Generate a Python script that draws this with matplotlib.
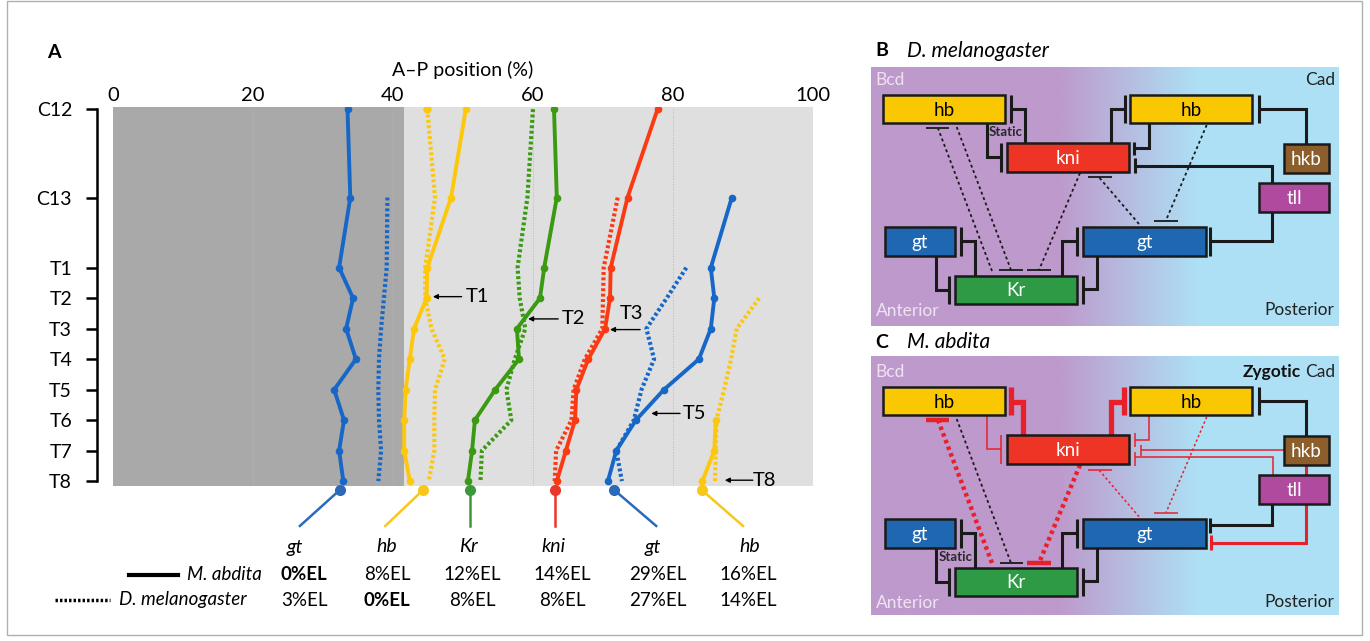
import numpy as np
import matplotlib
matplotlib.use('Agg')
import matplotlib.pyplot as plt
from matplotlib.patches import Rectangle

plt.rcParams['font.family'] = ['Lato', 'DejaVu Sans']

# ---- panel A data -------------------------------------------------------
rows = ['C12', 'C13', 'T1', 'T2', 'T3', 'T4', 'T5', 'T6', 'T7', 'T8']
row_pos = [0, 2.9, 5.2, 6.2, 7.2, 8.2, 9.2, 10.2, 11.2, 12.2]

# M. abdita (solid), A-P position in %; first row index given separately
ma_gt_ant = [33.5, 33.9, 32.3, 34.3, 33.3, 34.7, 31.6, 33.0, 32.3, 32.9]
ma_hb_ant = [50.4, 48.3, 44.9, 44.8, 43.0, 42.4, 41.8, 41.6, 41.6, 42.4]
ma_kr = [63.0, 63.4, 61.6, 61.0, 57.7, 58.0, 54.6, 51.7, 51.3, 50.7]
ma_kni = [77.8, 73.5, 71.1, 71.0, 70.3, 67.9, 66.2, 66.0, 64.7, 63.4]
ma_gt_post = [88.4, 85.4, 85.9, 85.4, 83.7, 78.7, 74.7, 71.9, 70.7]      # from C13
ma_hb_post = [86.1, 85.9, 84.2]                                          # from T6

# D. melanogaster (dotted)
dm_gt_ant = [39.2, 39.1, 38.7, 38.3, 38.0, 37.9, 38.0, 38.3, 37.9]      # from C13
dm_hb_ant = [44.9, 46.0, 44.6, 44.6, 45.5, 47.4, 46.0, 45.9, 45.9, 45.1]
dm_kr = [60.0, 59.2, 57.8, 58.1, 58.9, 57.4, 56.2, 56.9, 52.7, 52.5]
dm_kni = [72.1, 70.1, 70.0, 69.9, 67.4, 65.8, 65.5, 63.3, 63.1]        # from C13
dm_gt_post = [81.9, 79.1, 76.2, 77.3, 75.5, 74.4, 71.9, 72.7]           # from T1
dm_hb_post = [92.3, 89.1, 88.3, 87.3, 86.2, 86.1, 86.0]                 # from T2

anterior_shift = 41.6   # dark grey region ends here

genes = ['gt', 'hb', 'Kr', 'kni', 'gt', 'hb']
pin_x = [32.4, 44.3, 51.0, 63.2, 71.6, 84.1]
pin_end = [26.7, 38.9, 51.0, 63.2, 77.6, 90.0]
el_abdita = ['0%EL', '8%EL', '12%EL', '14%EL', '29%EL', '16%EL']
el_mel = ['3%EL', '0%EL', '8%EL', '8%EL', '27%EL', '14%EL']

BLUE = '#1767c8'
YEL = '#fdc70c'
GRN = '#3a9a12'
RED = '#fb3a14'
pin_cols = ['#2a6ab8', '#f7c71a', '#3a9a3a', '#e8372a', '#2a6ab8', '#f7c71a']

fig = plt.figure(figsize=(13.7, 6.41), dpi=100)

# overlay in pixel coordinates
ov = fig.add_axes([0, 0, 1, 1], zorder=0)
ov.set_xlim(0, 1370)
ov.set_ylim(641, 0)
ov.axis('off')

ax = fig.add_axes([113 / 1370, 1 - 486 / 641, 700 / 1370, 379 / 641], zorder=1)
ax.set_facecolor('none')
ax.set_xlim(0, 100)
ax.set_ylim(12.36, -0.07)
ax.axvspan(0, anterior_shift, color='#a9a9a9', lw=0, zorder=0)
ax.axvspan(anterior_shift, 100, color='#dfdfdf', lw=0, zorder=0)
for g in [20, 40, 60, 80, 100]:
    ax.axvline(g, color='#b8b8b8', lw=0.7, ls=':', zorder=0.5)

solid = [(ma_gt_ant, 0, BLUE), (ma_hb_ant, 0, YEL), (ma_kr, 0, GRN),
         (ma_kni, 0, RED), (ma_gt_post, 1, BLUE), (ma_hb_post, 7, YEL)]
dotted = [(dm_gt_ant, 1, BLUE), (dm_hb_ant, 0, YEL), (dm_kr, 0, GRN),
          (dm_kni, 1, RED), (dm_gt_post, 2, BLUE), (dm_hb_post, 3, YEL)]

for vals, start, col in dotted:
    ax.plot(vals, row_pos[start:start + len(vals)], color=col, lw=3,
            ls=(0, (0.7, 0.6)), dash_capstyle='butt', zorder=2)
ax.plot(dm_hb_ant[0], row_pos[0], 'o', color=YEL, ms=5, zorder=2)
for vals, start, col in solid:
    ax.plot(vals, row_pos[start:start + len(vals)], color=col, lw=2.8,
            marker='o', ms=4.5, zorder=3)

# bottom pins
for px, pe, col in zip(pin_x, pin_end, pin_cols):
    ax.plot([px, pe], [12.49, 13.67], color=col, lw=1.8, clip_on=False, zorder=3)
    ax.plot(px, 12.49, 'o', color=col, ms=7, clip_on=False, zorder=3)

# arrows
arrows = [('T1', (45.7, 6.15), (49.8, 6.15), (50.4, 6.15)),
          ('T2', (59.3, 6.88), (63.6, 6.88), (64.1, 6.88)),
          ('T3', (71.0, 7.23), (75.3, 7.23), (72.4, 6.7)),
          ('T5', (76.9, 9.98), (81.0, 9.98), (81.4, 9.98)),
          ('T8', (87.4, 12.17), (91.4, 12.17), (91.4, 12.17))]
for lab, head, tail, tpos in arrows:
    ax.annotate('', xy=head, xytext=tail,
                arrowprops=dict(arrowstyle='-|>', color='black', lw=1,
                                mutation_scale=7, shrinkA=0, shrinkB=0))
    ax.text(tpos[0], tpos[1], lab, fontsize=14.5, ha='left', va='center', zorder=4)

ax.set_yticks(row_pos)
ax.set_yticklabels(rows)
ax.set_xticks([0, 20, 40, 60, 80, 100])
ax.tick_params(axis='x', top=True, bottom=False, labeltop=True, labelbottom=False,
               length=0, pad=2, labelsize=14.5)
ax.tick_params(axis='y', direction='out', length=8, width=1.8, pad=10, labelsize=14)
for s in ['top', 'right', 'bottom']:
    ax.spines[s].set_visible(False)
ax.spines['left'].set_position(('outward', 11.5))
ax.spines['left'].set_bounds(row_pos[0], row_pos[-1])
ax.spines['left'].set_linewidth(1.8)
ax.xaxis.set_label_position('top')
ax.set_xlabel('A–P position (%)', fontsize=14, labelpad=8)

# ---- panel A labels below ----------------------------------------------
gene_x = [295, 387, 468, 554, 653, 750]
el_x = [304, 387, 472, 562, 658, 748]
for gx, ex, g, a, m in zip(gene_x, el_x, genes, el_abdita, el_mel):
    ov.text(gx, 547, g, style='italic', fontsize=14, ha='center', va='center')
    ov.text(ex, 575, a, fontsize=13.5, ha='center', va='center',
            fontweight='bold' if a == '0%EL' else 'normal')
    ov.text(ex, 600, m, fontsize=13.5, ha='center', va='center',
            fontweight='bold' if m == '0%EL' else 'normal')
ov.plot([129, 178], [575, 575], color='black', lw=3)
ov.text(262, 575, 'M. abdita', style='italic', fontsize=13.5, ha='right', va='center')
ov.plot([55, 110], [600, 600], color='black', lw=2.5, ls=(0, (0.7, 0.6)))
ov.text(247, 600, 'D. melanogaster', style='italic', fontsize=13.5, ha='right', va='center')
ov.text(47, 53, 'A', fontsize=14, fontweight='bold', ha='left', va='center')

# frame
ov.add_patch(Rectangle((7, 1), 1355, 634, fc='none', ec='#b0b0b0', lw=1))

# ---- panels B and C: gene network --------------------------------------
purple = np.array([0.745, 0.600, 0.800])
blue = np.array([0.680, 0.880, 0.960])


def background(y0, y1):
    f = np.linspace(0, 1, 400)
    t = np.clip((f - 0.40) / 0.30, 0, 1)
    grad = purple[None, :] * (1 - t[:, None]) + blue[None, :] * t[:, None]
    ov.imshow(grad[None, :, :], extent=[871, 1339, y1, y0], aspect='auto', zorder=1)


def box(x0, x1, y0, y1, fc, label, tc):
    ov.add_patch(Rectangle((x0, y0), x1 - x0, y1 - y0, fc=fc, ec='#1a1a1a', lw=1.8, zorder=4))
    ov.text((x0 + x1) / 2, (y0 + y1) / 2 + 1, label, color=tc, ha='center', va='center',
            fontsize=13.5, zorder=5)


def rep(pts, bar, dy, color='#1a1a1a', lw=2.2, ls='-', blw=None):
    xs = [p[0] for p in pts]
    ys = [p[1] + dy for p in pts]
    ov.plot(xs, ys, color=color, lw=lw, ls=ls, solid_capstyle='butt',
            solid_joinstyle='miter', dash_capstyle='butt', zorder=3)
    (bx0, by0), (bx1, by1) = bar
    ov.plot([bx0, bx1], [by0 + dy, by1 + dy], color=color, lw=blw or lw,
            solid_capstyle='butt', zorder=3)


def boxes(dy):
    box(883, 1005, 95 + dy, 123 + dy, '#f9c800', 'hb', 'black')
    box(1130, 1252, 95 + dy, 123 + dy, '#f9c800', 'hb', 'black')
    box(1007, 1129, 143 + dy, 172 + dy, '#ee3424', 'kni', 'white')
    box(1284, 1329, 144 + dy, 173 + dy, '#8b5e2b', 'hkb', 'white')
    box(1259, 1329, 183 + dy, 212 + dy, '#b04a9f', 'tll', 'white')
    box(885, 955, 227 + dy, 256 + dy, '#1f67b1', 'gt', 'white')
    box(1083, 1206, 227 + dy, 256 + dy, '#1f67b1', 'gt', 'white')
    box(955, 1077, 276 + dy, 304 + dy, '#2f9a46', 'Kr', 'white')


def common(dy):
    rep([(975, 276), (975, 241), (961, 241)], ((961, 227), (961, 256)), dy)
    rep([(936, 256), (936, 290), (949, 290)], ((949, 276), (949, 304)), dy)
    rep([(1062, 276), (1062, 241), (1077, 241)], ((1077, 227), (1077, 256)), dy)
    rep([(1097, 256), (1097, 289), (1083, 289)], ((1083, 276), (1083, 304)), dy)
    rep([(1306.5, 144), (1306.5, 109), (1259, 109)], ((1259, 95), (1259, 123)), dy)


DOT = (0, (1.6, 1.6))
RDOT = (0, (0.8, 0.8))
PINK = '#e8202a'
LIGHT = '#efe3f2'

# panel B
background(67, 326)
dy = 0
rep([(1025, 143), (1025, 109), (1011, 109)], ((1011, 95), (1011, 123)), dy)
rep([(986.7, 123), (986.7, 157), (1000.7, 157)], ((1000.7, 143), (1000.7, 172)), dy)
rep([(1110.7, 143), (1110.7, 109), (1125, 109)], ((1125, 95), (1125, 123)), dy)
rep([(1148.7, 123), (1148.7, 148), (1134, 148)], ((1134, 142), (1134, 155)), dy)
rep([(1272, 183), (1272, 166), (1135, 166)], ((1135, 158), (1135, 173)), dy)
rep([(1272, 212), (1272, 241), (1210, 241)], ((1210, 227), (1210, 256)), dy)
common(dy)
rep([(992, 271), (938, 128.3)], ((926, 128.3), (949, 128.3)), dy, lw=1.3, ls=DOT)
rep([(956.7, 127), (1011, 270)], ((999, 270), (1023, 270)), dy, lw=1.3, ls=DOT)
rep([(1080, 173), (1039, 270)], ((1027, 270), (1051, 270)), dy, lw=1.3, ls=DOT)
rep([(1139, 224), (1099, 177.3)], ((1088, 177.3), (1112, 177.3)), dy, lw=1.3, ls=DOT)
rep([(1206.7, 125), (1165.7, 221)], ((1154, 221), (1178, 221)), dy, lw=1.3, ls=DOT)
boxes(dy)
ov.text(1005.5, 132, 'Static', fontsize=9.5, fontweight='bold', ha='center', va='center',
        color='#2a2a2a', zorder=5)
ov.text(875, 80, 'Bcd', fontsize=12.5, color=LIGHT, ha='left', va='center', zorder=5)
ov.text(1335, 80, 'Cad', fontsize=12.5, color='#222222', ha='right', va='center', zorder=5)
ov.text(876, 311, 'Anterior', fontsize=12.5, color=LIGHT, ha='left', va='center', zorder=5)
ov.text(1334, 310, 'Posterior', fontsize=12.5, color='#222222', ha='right', va='center',
        zorder=5)
ov.text(875, 51, 'B', fontsize=14, fontweight='bold', ha='left', va='center')
ov.text(907, 51, 'D. melanogaster', fontsize=15, style='italic', ha='left', va='center')

# panel C
background(356, 615)
dy = 292
rep([(1023, 143), (1023, 110), (1011, 110)], ((1011, 95), (1011, 123)), dy,
    color=PINK, lw=3.8)
rep([(986.7, 123), (986.7, 157), (1000.7, 157)], ((1000.7, 143), (1000.7, 172)), dy,
    color=PINK, lw=1.1)
rep([(1111, 143), (1111, 110), (1124, 110)], ((1124, 95), (1124, 123)), dy,
    color=PINK, lw=3.8)
rep([(1149, 123), (1149, 148), (1135, 148)], ((1135, 141), (1135, 155)), dy,
    color=PINK, lw=1.1)
rep([(1284, 158), (1141, 158)], ((1141, 153), (1141, 164)), dy, color=PINK, lw=1.1)
rep([(1273, 183), (1273, 164.7), (1135, 164.7)], ((1135, 159.7), (1135, 174)), dy,
    color=PINK, lw=1.1)
ov.plot([1306.5, 1306.5], [173 + dy, 183 + dy], color=PINK, lw=2.2, zorder=3)
rep([(1306.5, 212), (1306.5, 250.7), (1210.7, 250.7)], ((1210.7, 243), (1210.7, 258)), dy,
    color=PINK, lw=2.2)
rep([(1272, 212), (1272, 233), (1210, 233)], ((1210, 226), (1210, 241)), dy)
common(dy)
rep([(992, 271), (938, 128)], ((926, 128), (949, 128)), dy, color=PINK, lw=3.2, ls=RDOT)
rep([(956.7, 127), (1011, 271)], ((1000, 271), (1023, 271)), dy, lw=1.3, ls=DOT)
rep([(1080, 173), (1039, 271)], ((1027, 271), (1051, 271)), dy, color=PINK, lw=3.2, ls=RDOT)
rep([(1139, 224.7), (1099, 178)], ((1088, 178), (1112, 178)), dy, color=PINK, lw=1.1,
    ls=DOT)
rep([(1206.7, 125), (1166, 220.7)], ((1154, 220.7), (1178, 220.7)), dy, color=PINK,
    lw=1.1, ls=DOT)
boxes(dy)
ov.text(956, 557, 'Static', fontsize=9.5, fontweight='bold', ha='center', va='center',
        color='#2a2a2a', zorder=5)
ov.text(875, 372, 'Bcd', fontsize=12.5, color=LIGHT, ha='left', va='center', zorder=5)
cad = ov.text(1335, 372, 'Cad', fontsize=12.5, color='#222222', ha='right', va='center',
              zorder=5)
renderer = fig.canvas.get_renderer()
cad_left = ov.transData.inverted().transform(cad.get_window_extent(renderer))[0][0]
ov.text(cad_left - 4, 372, 'Zygotic', fontsize=12.5, fontweight='bold', color='#111111',
        ha='right', va='center', zorder=5)
ov.text(876, 603, 'Anterior', fontsize=12.5, color=LIGHT, ha='left', va='center', zorder=5)
ov.text(1334, 602, 'Posterior', fontsize=12.5, color='#222222', ha='right', va='center',
        zorder=5)
ov.text(875, 342, 'C', fontsize=14, fontweight='bold', ha='left', va='center')
ov.text(907, 342, 'M. abdita', fontsize=15, style='italic', ha='left', va='center')

fig.savefig('out.png', dpi=100)
